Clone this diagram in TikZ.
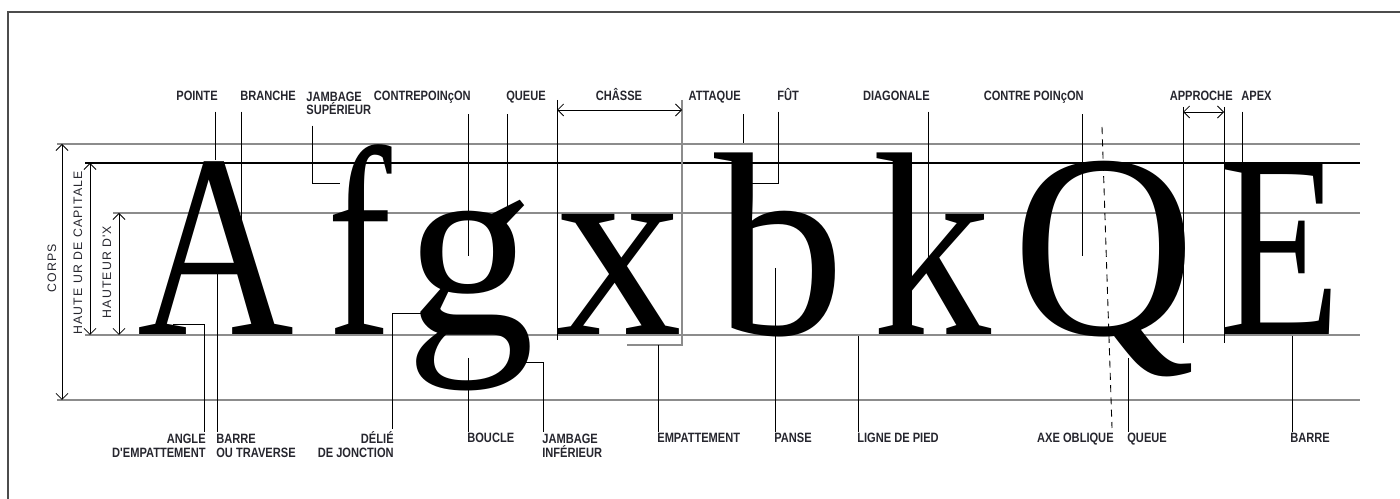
\documentclass[tikz,border=0pt]{standalone}
\usepackage{fontspec}
\usepackage{graphicx}
\usetikzlibrary{arrows.meta,calc}
\newfontfamily\glyphfont{Liberation Serif}
\newfontfamily\lblfont{Liberation Sans}[FakeStretch=0.82]
\newfontfamily\dimfont{Liberation Sans}[LetterSpace=9]
\definecolor{GuideGray}{HTML}{8C8C8C}
\definecolor{LabelInk}{HTML}{26262E}

\begin{document}
\begin{tikzpicture}[
    x=0.02cm, y=-0.02cm,
    guide/.style={draw=GuideGray, line width=1.1pt},
    capline/.style={draw=black, line width=0.7pt},
    leader/.style={draw=black, line width=0.5pt},
    dimarrow/.style={{Straight Barb[length=1.2mm]}-{Straight Barb[length=1.2mm]}, draw=black, line width=0.5pt},
    glyph/.style={font=\glyphfont\fontsize{149}{149}\selectfont, inner sep=0pt, anchor=base},
    toplabel/.style={font=\lblfont\bfseries\fontsize{7.7}{7.8}\selectfont, text=LabelInk, inner sep=0pt, outer ysep=6pt},
    botlabel/.style={font=\lblfont\bfseries\fontsize{7.7}{8.5}\selectfont, text=LabelInk, inner sep=0pt, outer ysep=1pt},
    vlabel/.style={font=\dimfont\fontsize{7}{8}\selectfont, text=LabelInk, rotate=90, inner sep=0pt}
  ]
  \useasboundingbox (0,0) rectangle (1400,499);
  % frame
  \draw[black!70, line width=1.2pt] (8,499) -- (8,12) -- (1400,12);

  % guide lines
  \draw[guide] (57,144) -- (1360,144);
  \draw[capline] (85,163) -- (1360,163);
  \draw[guide] (113,213) -- (1360,213);
  \draw[guide] (85,335) -- (1360,335);
  \draw[guide] (57,400) -- (1360,400);

  % vertical dimensions
  \coordinate (corpsT) at (62,144);
  \coordinate (corpsB) at (62,400);
  \coordinate (capT) at (90,163);
  \coordinate (capB) at (90,335);
  \coordinate (xhT) at (119,213);
  \coordinate (xhB) at (119,335);
  \draw[dimarrow] (corpsT) -- (corpsB);
  \draw[dimarrow] (capT) -- (capB);
  \draw[dimarrow] (xhT) -- (xhB);
  \node[vlabel] (lcorps) at (52,268) {CORPS};
  \node[vlabel] (lcap) at (78,253) {HAUTE UR DE CAPITALE};
  \node[vlabel] (lxh) at (107,272) {HAUTEUR D'X};

  % letters
  \node[glyph] (gA) at (216,335) {\scalebox{0.83}[1]{A}};
  \node[glyph] (gf) at (360,335) {\scalebox{0.74}[1.03]{f}};
  \node[glyph] (gg) at (470,335) {\scalebox{0.99}[1]{g}};
  \node[glyph] (gx) at (619,335) {\scalebox{0.97}[1]{x}};
  \node[glyph] (gb) at (780,335) {b};
  \node[glyph] (gk) at (932,335) {\scalebox{0.91}[1]{k}};
  \node[glyph] (gQ) at (1104,335) {\scalebox{0.97}[1]{Q}};
  \node[glyph] (gE) at (1280,335) {\scalebox{0.76}[1]{E}};

  % points on the letters
  \coordinate (pointe) at (215,160);
  \coordinate (branche) at (241,222);
  \coordinate (jsup) at (340,183);
  \coordinate (cpoincon) at (468,256);
  \coordinate (queueg) at (507,221);
  \coordinate (attaque) at (743,143);
  \coordinate (fut) at (748,183);
  \coordinate (diag) at (928,257);
  \coordinate (cpoinconQ) at (1082,256);
  \coordinate (apex) at (1242,163);
  \coordinate (angle) at (173,324);
  \coordinate (barreA) at (217,272);
  \coordinate (delie) at (423,313);
  \coordinate (boucle) at (468,358);
  \coordinate (jinf) at (523,362);
  \coordinate (empat) at (658,345);
  \coordinate (panse) at (775,268);
  \coordinate (pied) at (858,336);
  \coordinate (queueQ) at (1128,358);
  \coordinate (barreE) at (1292,336);
  \coordinate (axT) at (1102,127);
  \coordinate (axB) at (1112,428);

  % top labels
  \node[toplabel, anchor=base east] (lpointe) at (218,101) {POINTE};
  \node[toplabel, anchor=base west] (lbranche) at (240,101) {BRANCHE};
  \node[toplabel, anchor=base west, align=left] (ljsup) at (306,115) {JAMBAGE\\SUPÉRIEUR};
  \node[toplabel, anchor=base east] (lcpoincon) at (471,101) {CONTREPOINçON};
  \node[toplabel, anchor=base west] (lqueueg) at (506,101) {QUEUE};
  \node[toplabel, anchor=base] (lchasse) at (619,101) {CHÂSSE};
  \node[toplabel, anchor=base east] (lattaque) at (741,101) {ATTAQUE};
  \node[toplabel, anchor=base west] (lfut) at (777,101) {FÛT};
  \node[toplabel, anchor=base east] (ldiag) at (930,101) {DIAGONALE};
  \node[toplabel, anchor=base east] (lcpoinconQ) at (1084,101) {CONTRE POINçON};
  \node[toplabel, anchor=base east] (lapproche) at (1233,101) {APPROCHE};
  \node[toplabel, anchor=base west] (lapex) at (1241,101) {APEX};

  \draw[leader] (pointe |- lpointe.south) -- (pointe);
  \draw[leader] (branche |- lbranche.south) -- (branche);
  \draw[leader] ([xshift=0.12cm]ljsup.south west) |- (jsup);
  \draw[leader] (cpoincon |- lcpoincon.south) -- (cpoincon);
  \draw[leader] (queueg |- lqueueg.south) -- (queueg);
  \draw[leader] (attaque |- lattaque.south) -- (attaque);
  \draw[leader] ([xshift=0.02cm]lfut.south west) |- (fut);
  \draw[leader] (diag |- ldiag.south) -- (diag);
  \draw[leader] (cpoinconQ |- lcpoinconQ.south) -- (cpoinconQ);
  \draw[leader] (apex |- lapex.south) -- (apex);

  % chasse and approche
  \coordinate (chTL) at (557,100);
  \coordinate (chBL) at (557,340);
  \coordinate (chTR) at (682,100);
  \coordinate (chBR) at (682,345);
  \coordinate (empL) at (627,345);
  \coordinate (chAL) at (557,110);
  \coordinate (chAR) at (682,110);
  \draw[leader] (chTL) -- (chBL);
  \draw[draw=GuideGray, line width=0.7pt] (chTR) -- (chBR) -- (empL);
  \draw[dimarrow] (chAL) -- (chAR);
  \coordinate (apTL) at (1183,107);
  \coordinate (apBL) at (1183,343);
  \coordinate (apTR) at (1224,107);
  \coordinate (apBR) at (1224,343);
  \coordinate (apAL) at (1183,112);
  \coordinate (apAR) at (1224,112);
  \draw[leader] (apTL) -- (apBL);
  \draw[leader] (apTR) -- (apBR);
  \draw[dimarrow] (apAL) -- (apAR);

  % bottom labels
  \node[botlabel, anchor=base east, align=right] (langle) at (206,458) {ANGLE\\D'EMPATTEMENT};
  \node[botlabel, anchor=base west, align=left] (lbarreA) at (216,458) {BARRE\\OU TRAVERSE};
  \node[botlabel, anchor=base east, align=right] (ldelie) at (394,458) {DÉLIÉ\\DE JONCTION};
  \node[botlabel, anchor=base west] (lboucle) at (467,443) {BOUCLE};
  \node[botlabel, anchor=base west, align=left] (ljinf) at (542,458) {JAMBAGE\\INFÉRIEUR};
  \node[botlabel, anchor=base west] (lempat) at (657,443) {EMPATTEMENT};
  \node[botlabel, anchor=base west] (lpanse) at (774,443) {PANSE};
  \node[botlabel, anchor=base west] (lpied) at (857,443) {LIGNE DE PIED};
  \node[botlabel, anchor=base east] (laxe) at (1114,443) {AXE OBLIQUE};
  \node[botlabel, anchor=base west] (lqueueQ) at (1127,443) {QUEUE};
  \node[botlabel, anchor=base west] (lbarreE) at (1290,443) {BARRE};

  \draw[leader] (angle) -| ([xshift=-0.04cm]langle.north east);
  \draw[leader] (barreA) -- (barreA |- lbarreA.north);
  \draw[leader] (delie) -| ([xshift=-0.04cm]ldelie.north east);
  \draw[leader] (boucle) -- (boucle |- lboucle.north);
  \draw[leader] (jinf) -| ([xshift=0.02cm]ljinf.north west);
  \draw[leader] (empat) -- (empat |- lempat.north);
  \draw[leader] (panse) -- (panse |- lpanse.north);
  \draw[leader] (pied) -- (pied |- lpied.north);
  \draw[leader] (queueQ) -- (queueQ |- lqueueQ.north);
  \draw[leader] (barreE) -- (barreE |- lbarreE.north);
  \draw[leader, dash pattern=on 4pt off 3pt] (axT) -- (axB);
\end{tikzpicture}
\end{document}
